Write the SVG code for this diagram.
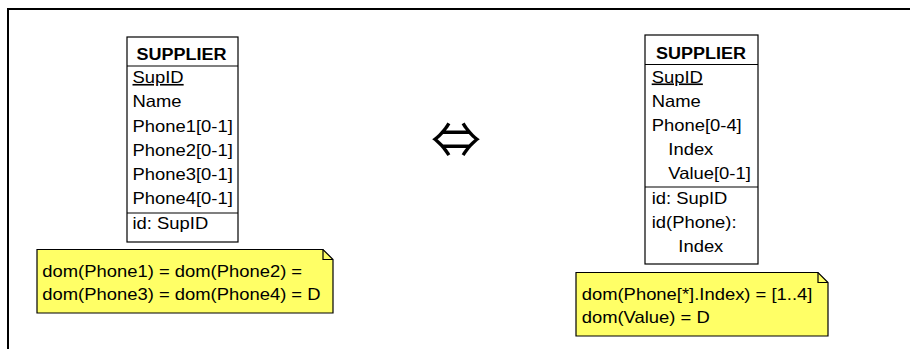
<svg xmlns="http://www.w3.org/2000/svg" width="910" height="349" viewBox="0 0 910 349">
  <style>
    .box { fill: #ffffff; stroke: #000000; stroke-width: 1.2; }
    .sep { stroke: #000000; stroke-width: 1.2; }
    .note { fill: #ffff66; stroke: #000000; stroke-width: 1.2; }
    .fold { fill: none; stroke: #000000; stroke-width: 1.2; }
    .hdr { font-family: "Liberation Sans", Arial, sans-serif; font-size: 17px; font-weight: bold; fill: #000; text-anchor: middle; }
    .att { font-family: "Liberation Sans", Arial, sans-serif; font-size: 16.3px; fill: #000; }
    .frame { fill: none; stroke: #000000; stroke-width: 2; }
  </style>

  <rect width="910" height="349" fill="#ffffff"/>
  <!-- outer frame (open on right and bottom) -->
  <path class="frame" d="M8,349 V9 H910"/>

  <!-- entity: SUPPLIER, four single-valued phone attributes -->
  <g id="supplier-flat">
    <rect class="box" x="127" y="37" width="111" height="205"/>
    <line class="sep" x1="127" y1="66" x2="238" y2="66"/>
    <line class="sep" x1="127" y1="213" x2="238" y2="213"/>
    <text class="hdr" transform="translate(181.5,59.5) scale(1.06,1)">SUPPLIER</text>
    <text class="att" transform="translate(132.5,83) scale(1.13,1)" text-decoration="underline">SupID</text>
    <text class="att" transform="translate(132.5,107) scale(1.13,1)">Name</text>
    <text class="att" transform="translate(132.5,131.5) scale(1.13,1)">Phone1[0-1]</text>
    <text class="att" transform="translate(132.5,155.5) scale(1.13,1)">Phone2[0-1]</text>
    <text class="att" transform="translate(132.5,179.5) scale(1.13,1)">Phone3[0-1]</text>
    <text class="att" transform="translate(132.5,203.5) scale(1.13,1)">Phone4[0-1]</text>
    <text class="att" transform="translate(132.5,229) scale(1.13,1)">id: SupID</text>
  </g>

  <g id="note-flat">
    <path class="note" d="M37,249.5 H323 L333,259.5 V313 H37 Z"/>
    <path class="fold" d="M323,249.5 V259.5 H333"/>
    <text class="att" transform="translate(42.3,277) scale(1.13,1)">dom(Phone1) = dom(Phone2) =</text>
    <text class="att" transform="translate(42.3,300) scale(1.13,1)">dom(Phone3) = dom(Phone4) = D</text>
  </g>

  <!-- equivalence symbol -->
  <g id="equiv">
    <text x="456" y="158" text-anchor="middle" font-family="Noto Sans CJK JP, DejaVu Sans, sans-serif" font-size="50" fill="#000">⇔</text>
  </g>

  <!-- entity: SUPPLIER, multivalued compound Phone -->
  <g id="supplier-compound">
    <rect class="box" x="645" y="35" width="113" height="229"/>
    <line class="sep" x1="645" y1="64.5" x2="758" y2="64.5"/>
    <line class="sep" x1="645" y1="187" x2="758" y2="187"/>
    <text class="hdr" transform="translate(701,58.5) scale(1.06,1)">SUPPLIER</text>
    <text class="att" transform="translate(651.7,82.5) scale(1.13,1)" text-decoration="underline">SupID</text>
    <text class="att" transform="translate(651.7,106.5) scale(1.13,1)">Name</text>
    <text class="att" transform="translate(651.7,130.5) scale(1.13,1)">Phone[0-4]</text>
    <text class="att" transform="translate(668.3,154.5) scale(1.13,1)">Index</text>
    <text class="att" transform="translate(668.3,178.5) scale(1.13,1)">Value[0-1]</text>
    <text class="att" transform="translate(651.7,204) scale(1.13,1)">id: SupID</text>
    <text class="att" transform="translate(651.7,228) scale(1.13,1)">id(Phone):</text>
    <text class="att" transform="translate(678.3,252) scale(1.13,1)">Index</text>
  </g>

  <g id="note-compound">
    <path class="note" d="M576,272.5 H818 L828,282.5 V336 H576 Z"/>
    <path class="fold" d="M818,272.5 V282.5 H828"/>
    <text class="att" transform="translate(581.7,299.5) scale(1.13,1)">dom(Phone[*].Index) = [1..4]</text>
    <text class="att" transform="translate(581.7,322.5) scale(1.13,1)">dom(Value) = D</text>
  </g>
</svg>
